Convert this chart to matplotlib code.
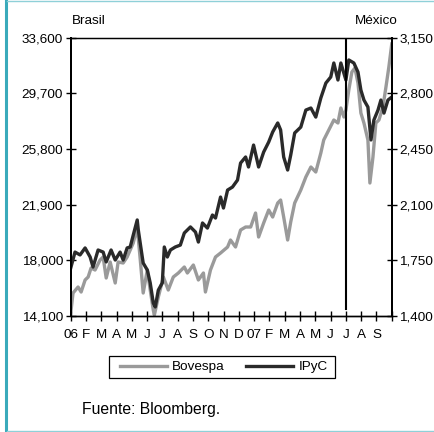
import matplotlib
matplotlib.use("Agg")
import matplotlib.pyplot as plt
from matplotlib.lines import Line2D
from matplotlib.patches import Rectangle

plt.rcParams["font.family"] = ["Liberation Sans", "DejaVu Sans"]
plt.rcParams["font.size"] = 9.7

# month offsets from Jan-2006 (0 = start of Jan 2006)
bov_t = [0.00, 0.15, 0.48, 0.68, 0.94, 1.14, 1.33, 1.59, 1.92, 2.12, 2.32, 2.58,
         2.91, 3.10, 3.43, 3.69, 4.09, 4.35, 4.55, 4.74, 5.01, 5.20, 5.40, 5.47,
         5.73, 6.06, 6.38, 6.71, 7.04, 7.43, 7.63, 8.02, 8.35, 8.68, 8.81, 9.14,
         9.47, 9.80, 10.26, 10.45, 10.78, 11.11, 11.44, 11.77, 12.09, 12.29,
         12.62, 12.95, 13.21, 13.54, 13.73, 13.93, 14.19, 14.39, 14.65, 15.05,
         15.38, 15.71, 16.03, 16.36, 16.55, 16.88, 17.21, 17.48, 17.67, 17.87,
         18.00, 18.19, 18.39, 18.59, 18.79, 18.98, 19.18, 19.44, 19.57, 19.77,
         19.96, 20.16, 20.42, 20.62, 20.81, 21.00]
bovespa = [14310, 15712, 16132, 15782, 16623, 16833, 17463, 17323, 18024, 18234,
           16763, 17884, 16412, 17884, 17814, 18234, 19215, 20336, 18024, 15712,
           17323, 15922, 14520, 14170, 15431, 16833, 15922, 16833, 17113, 17533,
           17113, 17674, 16623, 17113, 15782, 17323, 18234, 18514, 18935, 19425,
           18935, 20126, 20336, 20336, 21317, 19636, 20617, 21527, 21037, 22018,
           22228, 21037, 19425, 20687, 22018, 22929, 23840, 24540, 24190, 25521,
           26432, 27133, 27834, 27624, 28675, 28044, 28534, 29936, 31197, 31477,
           30426, 28324, 27624, 26432, 23419, 25241, 27624, 27834, 28745, 30146,
           31547, 33159]

ipc_t = [0.00, 0.28, 0.61, 0.94, 1.27, 1.46, 1.79, 2.12, 2.32, 2.64, 2.91, 3.23,
         3.43, 3.69, 3.89, 4.09, 4.35, 4.42, 4.68, 4.74, 5.01, 5.20, 5.40, 5.53,
         5.73, 5.99, 6.12, 6.32, 6.52, 6.84, 7.17, 7.43, 7.83, 8.16, 8.35, 8.62,
         8.94, 9.27, 9.47, 9.80, 9.99, 10.26, 10.58, 10.91, 11.11, 11.44, 11.63,
         11.96, 12.29, 12.62, 12.95, 13.21, 13.54, 13.73, 13.93, 14.19, 14.39,
         14.65, 15.05, 15.38, 15.71, 16.03, 16.36, 16.69, 17.01, 17.21, 17.48,
         17.67, 18.00, 18.19, 18.52, 18.79, 18.98, 19.18, 19.44, 19.64, 19.83,
         20.10, 20.29, 20.49, 20.75, 21.00]
ipyc = [1702, 1802, 1784, 1828, 1771, 1708, 1815, 1802, 1740, 1815, 1752, 1802,
        1752, 1828, 1834, 1909, 2004, 1941, 1771, 1733, 1689, 1608, 1482, 1457,
        1563, 1608, 1834, 1771, 1815, 1834, 1846, 1922, 1960, 1928, 1865, 1985,
        1953, 2035, 2016, 2148, 2079, 2192, 2211, 2255, 2362, 2400, 2337, 2475,
        2337, 2431, 2494, 2557, 2614, 2570, 2400, 2318, 2412, 2551, 2588, 2695,
        2708, 2651, 2771, 2865, 2903, 2991, 2884, 2991, 2884, 3010, 2991, 2934,
        2821, 2758, 2714, 2507, 2632, 2695, 2758, 2676, 2758, 2777]

month_labels = ["06", "F", "M", "A", "M", "J", "J", "A", "S", "O", "N", "D",
                "07", "F", "M", "A", "M", "J", "J", "A", "S"]
left_ticks = [14100, 18000, 21900, 25800, 29700, 33600]
right_ticks = [1400, 1750, 2100, 2450, 2800, 3150]
marker_month = 18  # July 2007

GRAY = "#9a9a9a"
DARK = "#2a2a2a"

fig = plt.figure(figsize=(4.35, 4.32), dpi=100)
ax = fig.add_axes([0.1626, 0.2685, 0.7380, 0.6442])
ax2 = ax.twinx()

l1, = ax.plot(bov_t, bovespa, color=GRAY, lw=2.4, solid_joinstyle="round")
l2, = ax2.plot(ipc_t, ipyc, color=DARK, lw=2.4, solid_joinstyle="round")
ax2.axvline(marker_month, ymin=0.025, ymax=1, color="black", lw=1.5)

ax.set_xlim(0, 21)
ax.set_ylim(left_ticks[0], left_ticks[-1])
ax2.set_ylim(right_ticks[0], right_ticks[-1])
ax.set_xticks(range(22))
ax.set_xticklabels(month_labels + [""])
ax.set_yticks(left_ticks)
ax.set_yticklabels([f"{v:,}" for v in left_ticks])
ax2.set_yticks(right_ticks)
ax2.set_yticklabels([f"{v:,}" for v in right_ticks])

for a in (ax, ax2):
    a.tick_params(direction="inout", length=7, width=1.0, colors="black")
    for s in a.spines.values():
        s.set_color("black")
    a.spines["top"].set_linewidth(0.9)
    a.spines["left"].set_linewidth(1.4)
    a.spines["right"].set_linewidth(1.4)
    a.spines["bottom"].set_linewidth(1.0)
ax.tick_params(axis="x", pad=6)
ax.tick_params(axis="y", pad=2)
ax2.tick_params(axis="y", pad=2)

fig.text(0.165, 0.951, "Brasil", ha="left", va="center")
fig.text(0.915, 0.951, "México", ha="right", va="center")

# legend: entries without frame, plus a plain rectangular box
fig.legend([l1, l2], ["Bovespa", "IPyC"], loc="center",
           bbox_to_anchor=(0.514, 0.150), ncol=2, frameon=False,
           handlelength=3.5, handletextpad=0.38, columnspacing=1.6,
           borderpad=0.0, borderaxespad=0)
fig.add_artist(Rectangle((0.2506, 0.125), 0.5195, 0.051, fill=False,
                         edgecolor="black", lw=0.9, transform=fig.transFigure))

fig.text(0.189, 0.053, "Fuente: Bloomberg.", ha="left", va="center",
         fontsize=11.3)

# page frame
fig.add_artist(Line2D([0.0145, 0.0145], [0.0, 1.0], color="#3aaabb", lw=2.2,
                      transform=fig.transFigure))
fig.add_artist(Line2D([0.016, 1.0], [0.998, 0.998], color="#8fd0d8", lw=1.0,
                      transform=fig.transFigure))
fig.add_artist(Line2D([0.016, 1.0], [0.003, 0.003], color="#8fd0d8", lw=1.0,
                      transform=fig.transFigure))

fig.savefig("out.png", dpi=100)
